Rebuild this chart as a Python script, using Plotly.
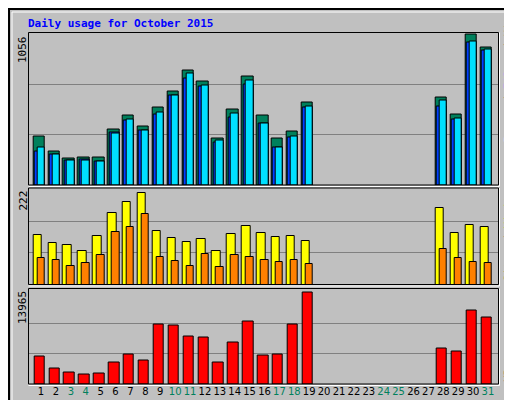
import plotly.graph_objects as go

days = list(range(1, 32))
N = None
hits  = [339,234,185,192,192,388,486,409,542,654,801,724,325,528,759,486,325,374,577,N,N,N,N,N,N,N,N,612,493,1056,962]
files = [234,213,171,178,164,367,451,381,493,626,748,689,297,472,703,430,262,332,542,N,N,N,N,N,N,N,N,549,458,997,941]
pages = [262,213,171,171,164,360,458,381,507,626,781,696,311,500,731,430,262,339,549,N,N,N,N,N,N,N,N,591,465,1004,948]
visits = [116,97,93,79,114,167,193,214,125,109,100,107,79,118,137,121,111,114,102,N,N,N,N,N,N,N,N,179,121,139,135]
sites  = [62,58,44,51,69,123,135,165,65,55,44,72,41,69,65,58,53,58,48,N,N,N,N,N,N,N,N,83,62,53,51]
kbytes = [4180,2345,1733,1427,1580,3262,4485,3568,9073,8920,7238,7085,3262,6320,9531,4332,4485,9073,13965,N,N,N,N,N,N,N,N,5403,4944,11213,10143]
weekends = [3,4,10,11,17,18,24,25,31]
max_hits, max_visits, max_kb = 1056, 222, 13965

H = 400
def fy(px):  # pixel y -> paper
    return 1 - px / H

fig = go.Figure()
def bar(y, color, off, w, ax):
    fig.add_trace(go.Bar(x=days, y=y, offset=off, width=w, xaxis='x', yaxis=ax,
                         marker=dict(color=color, line=dict(color='black', width=1))))

bar(hits, '#00805c', -0.52, 0.77, 'y')
bar(files, '#0040ff', -0.42, 0.67, 'y')
bar(pages, '#00e0ff', -0.25, 0.5, 'y')
bar(visits, '#ffff00', -0.52, 0.57, 'y2')
bar(sites, '#ff8000', -0.25, 0.5, 'y2')
bar(kbytes, '#ff0000', -0.45, 0.7, 'y3')

ticktext = [f"<span style='color:#00805c'>{d}</span>" if d in weekends else str(d) for d in days]
fig.update_layout(
    width=512, height=400, margin=dict(l=0, r=0, t=0, b=0),
    paper_bgcolor='#c0c0c0', plot_bgcolor='#c0c0c0', showlegend=False,
    barmode='overlay', bargap=0,
    font=dict(family='DejaVu Sans Mono', size=11, color='black'),
    xaxis=dict(range=[0.17, 31.72], tickvals=days, ticktext=ticktext, showgrid=False,
               zeroline=False, ticks='', anchor='y3', domain=[20.7/512, 490.7/512],
               tickangle=0, automargin=False,
               tickfont=dict(family='DejaVu Sans', size=10)),
    yaxis=dict(domain=[fy(177), fy(24.5)], range=[0, max_hits*152.2/150.7],
               tickvals=[max_hits/3, 2*max_hits/3], showticklabels=False,
               gridcolor='#808080', zeroline=False, anchor='x'),
    yaxis2=dict(domain=[fy(276.5), fy(180)], range=[0, max_visits*96.5/95],
                tickvals=[max_visits/3, 2*max_visits/3], showticklabels=False,
                gridcolor='#808080', zeroline=False, anchor='x'),
    yaxis3=dict(domain=[fy(376), fy(280.5)], range=[0, max_kb*95.5/91.4],
                tickvals=[max_kb/3, 2*max_kb/3], showticklabels=False,
                gridcolor='#808080', zeroline=False, anchor='x'),
)

shapes = [
    dict(type='rect', xref='paper', yref='paper', x0=0.002, x1=0.998, y0=0.0025, y1=0.9975,
         line=dict(color='black', width=2)),
    dict(type='rect', xref='paper', yref='paper', x0=4/512, x1=506/512, y0=fy(394), y1=fy(4),
         line=dict(color='white', width=1)),
]
for top, bot in [(24.5, 177), (180, 276.5), (280.5, 376)]:
    shapes.append(dict(type='rect', xref='paper', yref='paper', x0=20.5/512, x1=490.5/512,
                       y0=fy(bot), y1=fy(top), line=dict(color='black', width=1)))
    shapes.append(dict(type='line', xref='paper', yref='paper', x0=20.5/512, x1=491.5/512,
                       y0=fy(bot+1.5), y1=fy(bot+1.5), line=dict(color='white', width=1)))
    shapes.append(dict(type='line', xref='paper', yref='paper', x0=491.5/512, x1=491.5/512,
                       y0=fy(bot+1.5), y1=fy(top), line=dict(color='white', width=1)))
fig.update_layout(shapes=shapes)

def ann(text, x, y, xanchor, yanchor, angle=0, color='black', size=11, bold=False):
    fig.add_annotation(text=f"<b>{text}</b>" if bold else text, xref='paper', yref='paper',
                       x=x, y=y, xanchor=xanchor, yanchor=yanchor, showarrow=False,
                       textangle=angle, font=dict(family='DejaVu Sans Mono', size=size, color=color))

ann('Daily usage for October 2015', 18/512, fy(7), 'left', 'top', color='#0000ff', size=11, bold=True)
ann('1056', 6/512, fy(26), 'left', 'top', angle=-90)
ann('222', 6/512, fy(181), 'left', 'top', angle=-90)
ann('13965', 6/512, fy(281), 'left', 'top', angle=-90)
ann("<span style='color:#00e0ff'>Pages</span> / <span style='color:#0040ff'>Files</span> / <span style='color:#00805c'>Hits</span>",
    500/512, fy(137), 'center', 'bottom', angle=-90)
ann("<span style='color:#ff8000'>Sites</span> / <span style='color:#ffff00'>Visits</span>",
    500/512, fy(276), 'center', 'bottom', angle=-90)
ann("KBytes", 500/512, fy(376), 'center', 'bottom', angle=-90, color='#ff0000')

fig.write_html('out.html')
